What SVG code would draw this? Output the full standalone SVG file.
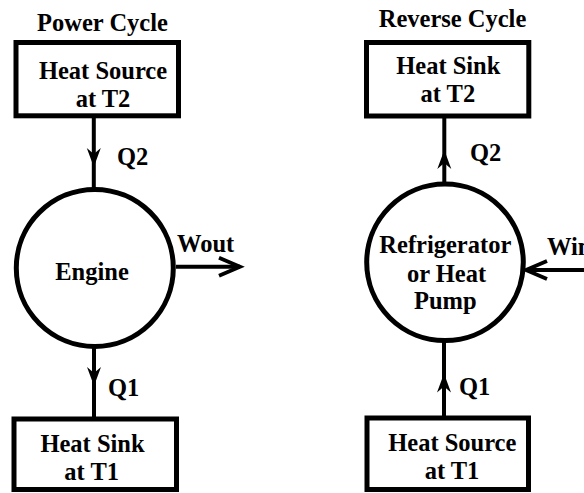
<svg xmlns="http://www.w3.org/2000/svg" width="584" height="493" viewBox="0 0 584 493">
  <style>
    .box { fill: #fff; stroke: #000; stroke-width: 5; }
    .ring { fill: #fff; stroke: #000; stroke-width: 5; }
    .conn { fill: none; stroke: #000; stroke-width: 4; }
    .t { font-family: 'Liberation Serif', 'DejaVu Serif', serif; font-weight: 700; font-size: 24.5px; fill: #000; }
    .c { text-anchor: middle; }
  </style>
  <defs>
    <marker id="stealth" markerUnits="userSpaceOnUse" viewBox="-20 -8 21 16" refX="0" refY="0" markerWidth="21" markerHeight="16" orient="auto" overflow="visible">
      <path d="M0,0 L-19,-7 L-13,0 L-19,7 Z" fill="#000"/>
    </marker>
    <marker id="open" markerUnits="userSpaceOnUse" viewBox="-23 -11 25 22" refX="0" refY="0" markerWidth="25" markerHeight="22" orient="auto" overflow="visible">
      <path d="M-21,-9 L0,0 L-21,9" fill="none" stroke="#000" stroke-width="3.8" stroke-linejoin="miter"/>
    </marker>
  </defs>

  <rect width="584" height="493" fill="#fff"/>

  <text class="t c" x="102.5" y="31">Power Cycle</text>
  <text class="t c" x="452.5" y="27">Reverse Cycle</text>

  <g id="connectors">
    <path class="conn" d="M93.8,118 L93.8,167 L93.8,188" marker-mid="url(#stealth)"/>
    <path class="conn" d="M94,348 L94,386 L94,418" marker-mid="url(#stealth)"/>
    <path class="conn" d="M176,266.7 L240,266.7" marker-end="url(#open)"/>
    <path class="conn" d="M444.3,183 L444.3,150 L444.3,116" marker-mid="url(#stealth)"/>
    <path class="conn" d="M444,418 L444,373.5 L444,342" marker-mid="url(#stealth)"/>
    <path class="conn" d="M590,270 L526,270" marker-end="url(#open)"/>
    <text class="t" x="117" y="165">Q2</text>
    <text class="t" x="108" y="396">Q1</text>
    <text class="t" x="177" y="252">Wout</text>
    <text class="t" x="470" y="161">Q2</text>
    <text class="t" x="459" y="395">Q1</text>
    <text class="t" x="547" y="255">Win</text>
  </g>

  <g id="heat-source-t2">
    <rect class="box" x="16" y="42.5" width="162.5" height="73.3"/>
    <text class="t c" x="103" y="79">Heat Source</text>
    <text class="t c" x="103" y="106.5">at T2</text>
  </g>

  <g id="engine">
    <circle class="ring" cx="94.8" cy="267.9" r="78.5"/>
    <text class="t c" x="92" y="280">Engine</text>
  </g>

  <g id="heat-sink-t1">
    <rect class="box" x="14" y="419" width="162.5" height="70.5"/>
    <text class="t c" x="92.5" y="452.3">Heat Sink</text>
    <text class="t c" x="91.7" y="480.3">at T1</text>
  </g>

  <g id="heat-sink-t2">
    <rect class="box" x="366.5" y="42.5" width="162.3" height="73.5"/>
    <text class="t c" x="448.3" y="74">Heat Sink</text>
    <text class="t c" x="447.8" y="101.7">at T2</text>
  </g>

  <g id="refrigerator">
    <circle class="ring" cx="445" cy="262.3" r="78.3"/>
    <text class="t c" x="445.3" y="253.3">Refrigerator</text>
    <text class="t c" x="446.5" y="281.7">or Heat</text>
    <text class="t c" x="445.3" y="309">Pump</text>
  </g>

  <g id="heat-source-t1">
    <rect class="box" x="367" y="418" width="161.5" height="71.5"/>
    <text class="t c" x="452.3" y="451.3">Heat Source</text>
    <text class="t c" x="452" y="479">at T1</text>
  </g>
</svg>
